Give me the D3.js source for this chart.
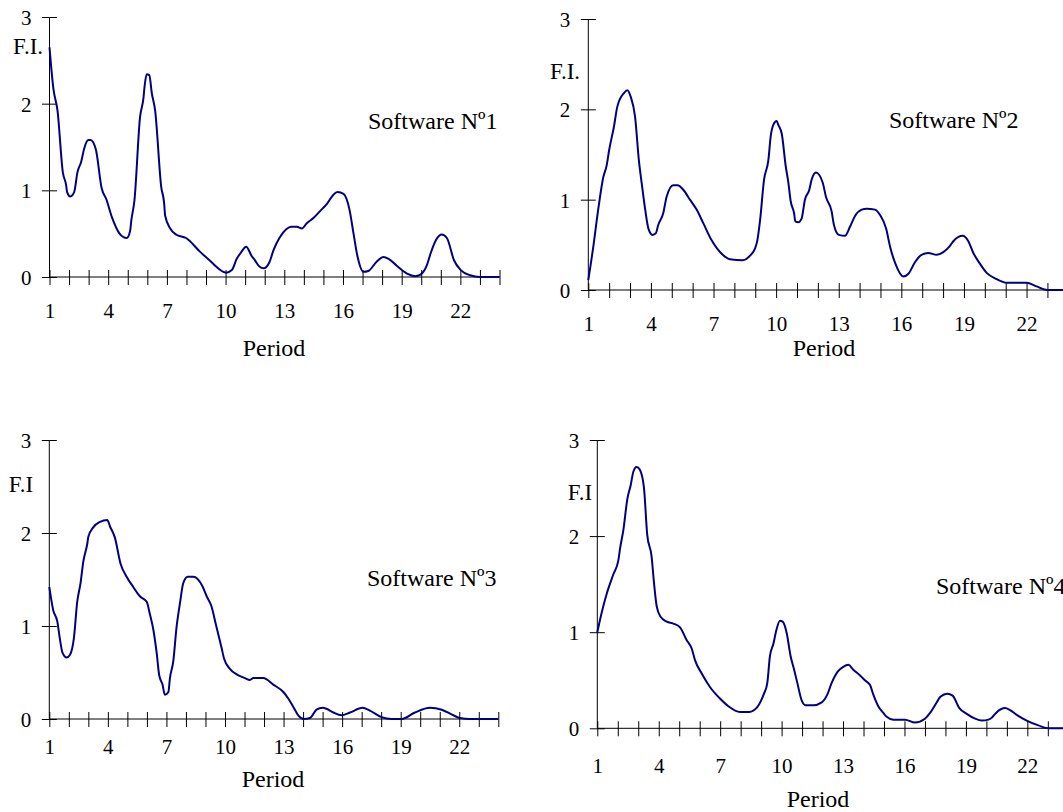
<!DOCTYPE html>
<html>
  <style>
    body { margin: 0; background: #fff; }
    svg text { font-family: "Liberation Serif", "Times New Roman", serif; fill: #000; }
    .series { fill: none; stroke: #000080; stroke-width: 2; }
  </style>
  <body>
    <div id="chart"></div>
  </body>
  <script src="https://d3js.org/d3.v7.min.js"></script>
  <script>
    // Period ticks and labels
    const PERIODS = d3.range(1, 25);
    const PERIOD_LABELS = [1, 4, 7, 10, 13, 16, 19, 22];
    const FI_TICKS = [0, 1, 2, 3];

    // F.I. curves, [period, value]
    const software1 = [[1,2.65],[1.2,2.17],[1.41,1.92],[1.68,1.21],[1.85,1.06],[1.9,0.98],[2.06,0.93],[2.26,0.98],
      [2.43,1.21],[2.62,1.33],[2.77,1.48],[2.99,1.58],[3.1,1.58],[3.37,1.47],[3.67,1.02],[3.9,0.9],[4.19,0.69],
      [4.58,0.5],[4.78,0.46],[4.95,0.45],[5.12,0.53],[5.18,0.65],[5.34,0.88],[5.63,1.85],[5.8,2.06],[5.86,2.2],
      [5.97,2.34],[6.1,2.33],[6.23,2.12],[6.4,1.92],[6.71,1.04],[6.86,0.85],[6.91,0.71],[7.17,0.56],[7.47,0.49],
      [7.98,0.45],[8.7,0.29],[9.38,0.15],[9.52,0.12],[10.03,0.05],[10.32,0.08],[10.57,0.21],[10.78,0.28],[11.05,0.35],
      [11.34,0.24],[11.51,0.19],[11.73,0.12],[11.94,0.1],[12.24,0.17],[12.45,0.31],[12.75,0.45],[13.1,0.55],
      [13.35,0.58],[13.64,0.58],[13.9,0.56],[14.15,0.62],[14.49,0.68],[14.83,0.76],[15.2,0.85],[15.51,0.95],
      [15.72,0.98],[16.03,0.96],[16.33,0.78],[16.54,0.5],[16.74,0.24],[17.05,0.06],[17.3,0.07],[17.73,0.18],
      [18.07,0.23],[18.33,0.21],[18.75,0.13],[19.27,0.04],[19.7,0.01],[19.9,0.02],[20.28,0.13],[20.49,0.28],
      [20.76,0.43],[21.05,0.49],[21.31,0.45],[21.68,0.19],[22.02,0.08],[22.5,0.02],[23,0],[24,0]];

    const software2 = [[1,0.11],[1.24,0.48],[1.48,0.9],[1.72,1.25],[1.88,1.38],[2,1.55],[2.23,1.81],[2.39,2.03],
      [2.71,2.18],[2.87,2.21],[3.03,2.14],[3.24,1.92],[3.43,1.42],[3.56,1.18],[3.72,0.9],[3.88,0.68],[4.08,0.61],
      [4.24,0.63],[4.35,0.72],[4.59,0.85],[4.75,1.03],[5.07,1.16],[5.28,1.16],[5.55,1.11],[5.87,1.0],[6.19,0.89],
      [6.51,0.74],[6.91,0.55],[7.44,0.39],[7.79,0.34],[8.4,0.33],[8.75,0.38],[8.99,0.46],[9.1,0.55],[9.23,0.77],
      [9.42,1.22],[9.63,1.44],[9.74,1.7],[9.87,1.83],[10.03,1.87],[10.1,1.83],[10.27,1.73],[10.46,1.37],
      [10.58,1.2],[10.7,0.98],[10.86,0.85],[10.92,0.76],[11.06,0.75],[11.22,0.79],[11.38,1.0],[11.59,1.11],
      [11.7,1.22],[11.91,1.3],[12.23,1.19],[12.39,1.03],[12.66,0.87],[12.77,0.72],[13.01,0.61],[13.3,0.6],
      [13.54,0.7],[13.78,0.82],[14.1,0.89],[14.34,0.9],[14.74,0.89],[14.98,0.83],[15.27,0.68],[15.46,0.48],
      [15.7,0.3],[16.1,0.15],[16.34,0.18],[16.66,0.31],[16.97,0.39],[17.29,0.41],[17.69,0.39],[18.01,0.42],
      [18.3,0.48],[18.49,0.54],[18.94,0.6],[19.21,0.54],[19.45,0.41],[19.74,0.3],[20.09,0.19],[20.57,0.12],
      [21.05,0.08],[22,0.08],[22.48,0.04],[23,0],[24,0]];

    const software3 = [[1,1.42],[1.2,1.17],[1.41,1.05],[1.55,0.85],[1.68,0.71],[1.89,0.66],[2.06,0.69],[2.26,0.87],
      [2.43,1.26],[2.6,1.46],[2.74,1.69],[2.95,1.89],[3,1.96],[3.25,2.06],[3.6,2.12],[3.97,2.14],[4.11,2.07],
      [4.36,1.95],[4.65,1.67],[4.96,1.53],[5.3,1.42],[5.64,1.32],[5.99,1.26],[6.16,1.12],[6.33,0.96],[6.5,0.71],
      [6.63,0.47],[6.8,0.37],[6.92,0.26],[7.1,0.29],[7.18,0.44],[7.35,0.62],[7.52,0.99],[7.69,1.24],[7.86,1.46],
      [8.09,1.53],[8.38,1.53],[8.84,1.43],[9.06,1.32],[9.31,1.21],[9.54,1.01],[9.83,0.76],[9.95,0.65],[10.25,0.54],
      [10.6,0.48],[11.02,0.44],[11.28,0.42],[11.45,0.44],[11.96,0.44],[12.47,0.37],[12.99,0.29],[13.24,0.22],
      [13.5,0.13],[13.75,0.04],[14.04,0],[14.35,0.01],[14.69,0.1],[15,0.12],[15.2,0.11],[15.55,0.07],[15.97,0.04],
      [16.4,0.07],[17.05,0.12],[17.42,0.09],[18.02,0.02],[18.53,0],[19.05,0],[19.73,0.07],[20.5,0.12],[21.1,0.1],
      [21.7,0.04],[22.04,0.01],[22.55,0],[24,0]];

    const software4 = [[1,1.0],[1.21,1.2],[1.46,1.4],[1.78,1.6],[2.03,1.75],[2.11,1.87],[2.27,2.06],[2.47,2.39],
      [2.63,2.53],[2.76,2.67],[2.92,2.72],[3.08,2.69],[3.28,2.5],[3.44,2.01],[3.65,1.79],[3.77,1.51],[3.9,1.27],
      [4.09,1.16],[4.39,1.11],[4.71,1.09],[5.04,1.05],[5.36,0.92],[5.61,0.83],[5.77,0.71],[6.1,0.57],[6.5,0.43],
      [6.99,0.31],[7.4,0.23],[7.97,0.17],[8.42,0.17],[8.81,0.22],[8.98,0.28],[9.14,0.36],[9.3,0.47],[9.43,0.75],
      [9.6,0.88],[9.73,1.01],[9.92,1.12],[10.05,1.11],[10.25,0.99],[10.44,0.75],[10.6,0.62],[10.77,0.47],
      [10.98,0.29],[11.17,0.24],[11.55,0.24],[11.96,0.27],[12.23,0.35],[12.44,0.47],[12.74,0.59],[13.01,0.64],
      [13.26,0.66],[13.5,0.61],[13.83,0.55],[14.07,0.5],[14.32,0.45],[14.48,0.35],[14.72,0.23],[14.97,0.16],
      [15.13,0.12],[15.46,0.09],[16.03,0.09],[16.51,0.06],[17,0.1],[17.25,0.16],[17.49,0.24],[17.77,0.33],
      [18.09,0.36],[18.35,0.34],[18.68,0.21],[19.04,0.15],[19.45,0.1],[19.77,0.08],[20.1,0.09],[20.26,0.11],
      [20.47,0.16],[20.91,0.21],[21.15,0.19],[21.48,0.14],[21.97,0.08],[22.54,0.03],[23.03,0],[24,0]];

    const SERIES_NAMES = ["Software Nº1", "Software Nº2", "Software Nº3", "Software Nº4"];
    const FI_NAMES = ["F.I.", "F.I.", "F.I", "F.I"];

    var FONT = "'Liberation Serif', 'Times New Roman', serif";

    // Panel placement (pixels)
    const panels = [
      { data: software1, x0: 49.5, x1: 499.5, y0: 277, y3: 17, tickY: 41, name: [368, 129], fi: [28, 54], period: [274, 356] },
      { data: software2, x0: 588.3, x1: 1068.3, y0: 290, y3: 19, tickY: 40.5, name: [889, 128], fi: [565, 79], period: [824, 356] },
      { data: software3, x0: 49.3, x1: 498.3, y0: 719, y3: 440, tickY: 35, name: [367, 586], fi: [21, 492], period: [273, 787] },
      { data: software4, x0: 597.3, x1: 1068.3, y0: 728.3, y3: 440, tickY: 44.7, name: [936, 594], fi: [580, 500], period: [818, 807] }
    ];

    const svg = d3.select("#chart").append("svg")
      .attr("width", 1063)
      .attr("height", 812);

    svg.append("rect").attr("width", 1063).attr("height", 812).attr("fill", "#fff");

    panels.forEach(function (p, i) {
      var x = d3.scaleLinear().domain([1, 24]).range([p.x0, p.x1]);
      var y = d3.scaleLinear().domain([0, 3]).range([p.y0, p.y3]);
      var g = svg.append("g");

      // Y axis with ticks crossing the line
      var yAxis = g.append("g")
        .attr("transform", "translate(" + p.x0 + ",0)")
        .call(d3.axisLeft(y).tickValues(FI_TICKS).tickSize(7.5).tickPadding(10.5).tickFormat(d3.format("d")))
        .attr("font-family", FONT).attr("font-size", 21);
      yAxis.select(".domain").attr("d", "M0," + p.y0 + "V" + p.y3).attr("stroke", "#000");
      yAxis.selectAll(".tick line").attr("x1", -7.5).attr("x2", 7.5).attr("stroke", "#000");
      yAxis.selectAll(".tick text").attr("dy", "0.35em").style("font-size", "21px");

      // X axis
      var xAxis = g.append("g")
        .attr("transform", "translate(0," + p.y0 + ")")
        .call(d3.axisBottom(x).tickValues(PERIODS).tickSize(8)
          .tickFormat(function (d) { return PERIOD_LABELS.indexOf(d) >= 0 ? d : ""; }))
        .attr("font-family", FONT).attr("font-size", 21);
      xAxis.select(".domain").attr("d", "M" + p.x0 + ",0H" + p.x1).attr("stroke", "#000");
      xAxis.selectAll(".tick line").attr("y1", -7).attr("y2", 8).attr("stroke", "#000");
      xAxis.selectAll(".tick text").attr("y", p.tickY).attr("dy", 0).style("font-size", "21px");

      // Curve
      g.append("path")
        .datum(p.data)
        .attr("class", "series")
        .attr("d", d3.line()
          .x(function (d) { return x(d[0]); })
          .y(function (d) { return y(d[1]); })
          .curve(d3.curveMonotoneX));

      // Labels
      g.append("text").style("font-size", "24px")
        .attr("x", p.name[0]).attr("y", p.name[1]).text(SERIES_NAMES[i]);
      g.append("text").style("font-size", "23px").attr("text-anchor", "middle")
        .attr("x", p.fi[0]).attr("y", p.fi[1]).text(FI_NAMES[i]);
      g.append("text").style("font-size", "24px")
        .attr("text-anchor", "middle")
        .attr("x", p.period[0]).attr("y", p.period[1]).text("Period");
    });
  </script>
</html>
